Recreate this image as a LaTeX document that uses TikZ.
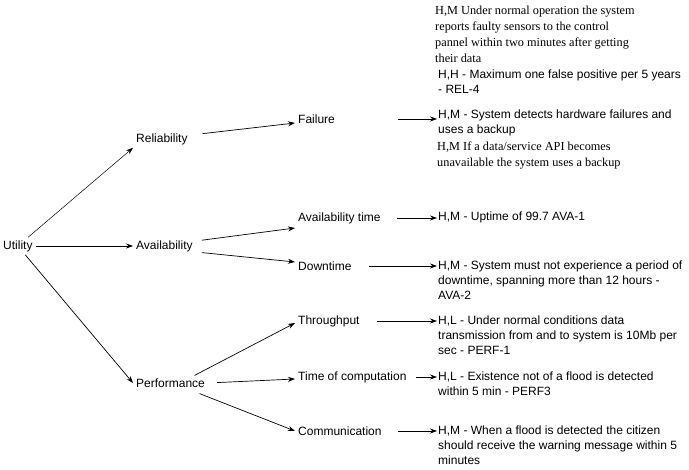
\documentclass[tikz,border=0pt]{standalone}
\usepackage{fontspec}
\setmainfont{Liberation Sans}
\newfontfamily\timesfont{Liberation Serif}
\usetikzlibrary{arrows.meta}

\begin{document}
\begin{tikzpicture}[x=1pt, y=-1pt,
        every node/.style={font=\fontsize{12}{15}\selectfont, inner sep=0pt},
        lbl/.style={anchor=west, inner sep=3pt},
        req/.style={anchor=north west, align=left},
        serifreq/.style={anchor=north west, align=left, font=\fontsize{12.3}{16}\selectfont\timesfont},
        arr/.style={->, >={Stealth[length=7pt, width=5pt]}, black, line width=0.7pt}]
        \useasboundingbox (0,0) rectangle (689,470);
        % quality attributes
        \node[lbl] at (0,246) (u) {Utility};
        \node[lbl] at (133,139) (rel) {Reliability};
        \node[lbl] at (133,246) (ava) {Availability};
        \node[lbl] at (133,383) (per) {Performance};
        % refinements
        \node[lbl] at (295,119) (fail) {Failure};
        \node[lbl] at (295,218) (avt) {Availability time};
        \node[lbl] at (295,266) (down) {Downtime};
        \node[lbl] at (295,321) (thr) {Throughput};
        \node[lbl] at (295,377) (toc) {Time of computation};
        \node[lbl] at (295,431) (com) {Communication};
        % scenarios
        \node[serifreq] at (435,6) (s1) {H,M Under normal operation the system\\reports faulty sensors to the control\\pannel within two minutes after getting\\their data};
        \node[req] at (438,70) (s2) {H,H - Maximum one false positive per 5 years\\- REL-4};
        \node[req] at (438,110) (s3) {H,M - System detects hardware failures and\\uses a backup};
        \node[serifreq] at (437,142) (s4) {H,M If a data/service API becomes\\unavailable the system uses a backup};
        \node[req] at (438,212) (s5) {H,M - Uptime of 99.7 AVA-1};
        \node[req] at (438,261) (s6) {H,M - System must not experience a period of\\downtime, spanning more than 12 hours -\\AVA-2};
        \node[req] at (438,316) (s7) {H,L - Under normal conditions data\\transmission from and to system is 10Mb per\\sec - PERF-1};
        \node[req] at (438,372) (s8) {H,L - Existence not of a flood is detected\\within 5 min - PERF3};
        \node[req] at (438,426) (s9) {H,M - When a flood is detected the citizen\\should receive the warning message within 5\\minutes};
        % tree
        \draw[arr, line width=0.5pt] (u) -- (rel.south west);
        \draw[arr] (u) -- (ava);
        \draw[arr] (u) -- (per.west);
        \draw[arr, shorten <=12pt] ([yshift=4pt]rel.east) -- ([yshift=-4pt]fail.west);
        \draw[arr, shorten <=6pt] ([yshift=5pt]ava.east) -- ([yshift=-10pt]avt.west);
        \draw[arr, shorten <=6pt] ([yshift=-6pt]ava.east) -- ([yshift=4pt]down.west);
        \draw[arr] ([xshift=24pt]per.north) -- ([yshift=-2pt]thr.west);
        \draw[arr, shorten <=9pt] (per.east) -- ([yshift=-2pt]toc.west);
        \draw[arr] ([xshift=29pt, yshift=-3pt]per.south) -- (com.west);
        % leaves
        \draw[arr, shorten <=60pt, shorten >=1pt] (fail) -- (fail -| s3.west);
        \draw[arr, shorten <=13pt, shorten >=1pt] (avt.east) -- (avt -| s5.west);
        \draw[arr, shorten <=14pt, shorten >=1pt] (down.east) -- (down -| s6.west);
        \draw[arr, shorten <=14pt, shorten >=1pt] (thr.east) -- (thr -| s7.west);
        \draw[arr, shorten <=6pt, shorten >=1pt] (toc.east) -- (toc -| s8.west);
        \draw[arr, shorten <=13pt, shorten >=1pt] (com.east) -- (com -| s9.west);
\end{tikzpicture}
\end{document}
